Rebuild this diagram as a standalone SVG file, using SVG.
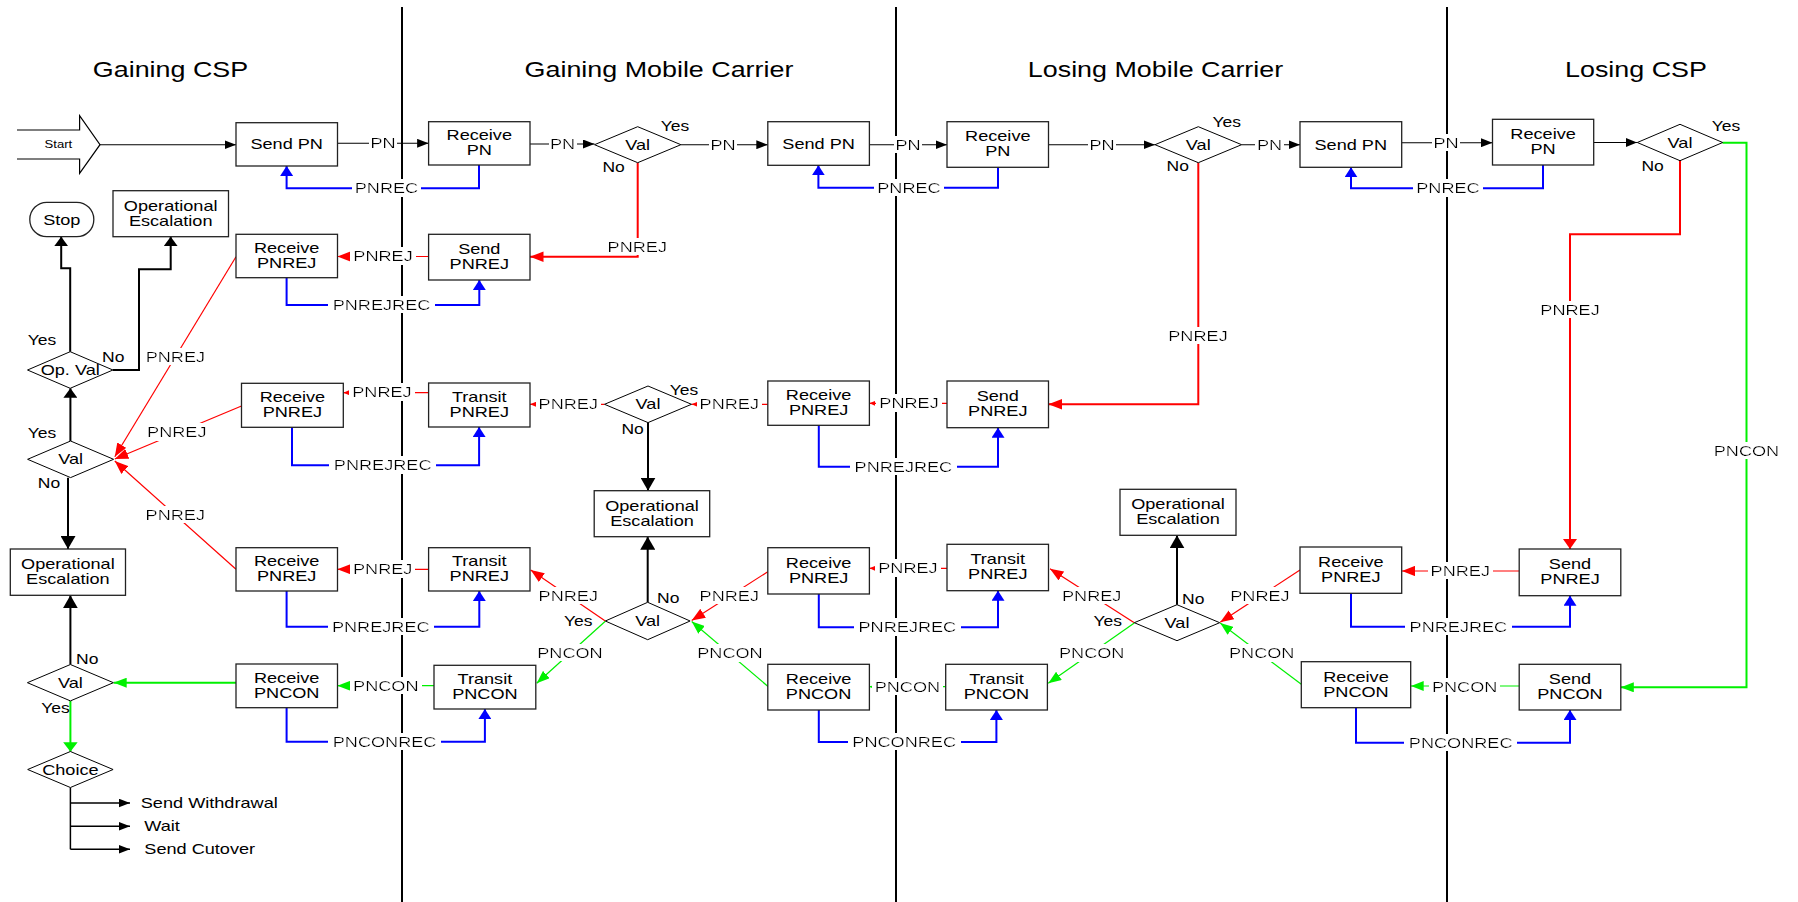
<svg xmlns="http://www.w3.org/2000/svg" width="1798" height="902" viewBox="0 0 1798 902">
<style>
text { font-family: "Liberation Sans", Arial, sans-serif; fill: #000; }
.tx { transform-box: fill-box; transform-origin: 50% 50%; transform: scaleX(1.25); }
.tl { transform-box: fill-box; transform-origin: 0% 50%; transform: scaleX(1.25); }
.c { text-anchor: middle; }
.n { font-size: 14.5px; }
.hd { font-size: 21.5px; }
.yn { font-size: 14px; }
.lb { font-size: 14.5px; filter: url(#bg); }
.box { fill: #fff; stroke: #222; stroke-width: 1.3; }
.dia { fill: #fff; stroke: #000; stroke-width: 1; }
.lane { stroke: #000; stroke-width: 2; }
.ck { fill: none; stroke: #000; stroke-width: 1.1; }
.ckt { fill: none; stroke: #000; stroke-width: 2; }
.cb { fill: none; stroke: #0000ff; stroke-width: 2; }
.cr { fill: none; stroke: #ff0000; stroke-width: 1.2; }
.cr2 { fill: none; stroke: #ff0000; stroke-width: 2; }
.cg { fill: none; stroke: #00f000; stroke-width: 1.2; }
.cg2 { fill: none; stroke: #00f000; stroke-width: 2; }
</style>
<defs>
  <filter id="bg" x="-0.04" y="-0.02" width="1.08" height="1.04">
    <feFlood flood-color="#fff"/>
    <feComposite in="SourceGraphic" operator="over"/>
  </filter>
  <marker id="kh" markerWidth="11.5" markerHeight="9" refX="11.5" refY="4.5" orient="auto" markerUnits="userSpaceOnUse"><path d="M0,0L11.5,4.5L0,9z" fill="#000"/></marker>
  <marker id="kv" markerWidth="9.5" markerHeight="14" refX="9.5" refY="7" orient="auto" markerUnits="userSpaceOnUse"><path d="M0,0L9.5,7L0,14z" fill="#000"/></marker>
  <marker id="kb" markerWidth="13" markerHeight="15" refX="13" refY="7.5" orient="auto" markerUnits="userSpaceOnUse"><path d="M0,0L13,7.5L0,15z" fill="#000"/></marker>
  <marker id="bv" markerWidth="10" markerHeight="13" refX="10" refY="6.5" orient="auto" markerUnits="userSpaceOnUse"><path d="M0,0L10,6.5L0,13z" fill="#0000ff"/></marker>
  <marker id="rh" markerWidth="13.5" markerHeight="10.5" refX="13.5" refY="5.25" orient="auto" markerUnits="userSpaceOnUse"><path d="M0,0L13.5,5.25L0,10.5z" fill="#ff0000"/></marker>
  <marker id="rv" markerWidth="10" markerHeight="14" refX="10" refY="7" orient="auto" markerUnits="userSpaceOnUse"><path d="M0,0L10,7L0,14z" fill="#ff0000"/></marker>
  <marker id="rs" markerWidth="6" markerHeight="5" refX="6" refY="2.5" orient="auto" markerUnits="userSpaceOnUse"><path d="M0,0L6,2.5L0,5z" fill="#ff0000"/></marker>
  <marker id="gh" markerWidth="13" markerHeight="10" refX="13" refY="5" orient="auto" markerUnits="userSpaceOnUse"><path d="M0,0L13,5L0,10z" fill="#00f000"/></marker>
  <marker id="gv" markerWidth="9.5" markerHeight="14.5" refX="9.5" refY="7.25" orient="auto" markerUnits="userSpaceOnUse"><path d="M0,0L9.5,7.25L0,14.5z" fill="#00f000"/></marker>
  <marker id="gs" markerWidth="5" markerHeight="4.5" refX="5" refY="2.25" orient="auto" markerUnits="userSpaceOnUse"><path d="M0,0L5,2.25L0,4.5z" fill="#00f000"/></marker>
</defs>

<rect width="1798" height="902" fill="#fff"/>

<!-- swimlanes -->
<g id="lanes">
  <line class="lane" x1="402" y1="7" x2="402" y2="902"/>
  <line class="lane" x1="896" y1="7" x2="896" y2="902"/>
  <line class="lane" x1="1447" y1="7" x2="1447" y2="902"/>
  <text class="hd c tx" x="170.5" y="77">Gaining CSP</text>
  <text class="hd c tx" x="659" y="77">Gaining Mobile Carrier</text>
  <text class="hd c tx" x="1155.5" y="77">Losing Mobile Carrier</text>
  <text class="hd c tx" x="1636" y="77">Losing CSP</text>
</g>

<!-- message flows -->
<g id="connectors">
  <!-- port request (PN) -->
  <path class="ck" d="M100,144.7H236" marker-end="url(#kh)"/>
  <path class="ck" d="M337.5,143.3H428.6" marker-end="url(#kh)"/>
  <path class="ck" d="M530,144H594.5" marker-end="url(#kh)"/>
  <path class="ck" d="M680.9,144.7H767.8" marker-end="url(#kh)"/>
  <path class="ck" d="M869.4,144.7H947" marker-end="url(#kh)"/>
  <path class="ck" d="M1048.5,144.7H1155" marker-end="url(#kh)"/>
  <path class="ck" d="M1241.6,144.7H1300" marker-end="url(#kh)"/>
  <path class="ck" d="M1401.7,142.7H1492.5" marker-end="url(#kh)"/>
  <path class="ck" d="M1593.7,142.5H1637.3" marker-end="url(#kh)"/>

  <!-- decision outcomes -->
  <path class="ckt" d="M70.2,351.7V268.3H61.2V236.7" marker-end="url(#kv)"/>
  <path class="ckt" d="M112.9,370H139V269.3H170.7V236.7" marker-end="url(#kv)"/>
  <path class="ckt" d="M70.4,441V388.3" marker-end="url(#kv)"/>
  <path class="ckt" d="M68,477.7V549" marker-end="url(#kb)"/>
  <path class="ckt" d="M70.4,664.5V595.3" marker-end="url(#kb)"/>
  <path class="ckt" d="M648,422.6V490.7" marker-end="url(#kb)"/>
  <path class="ckt" d="M647.7,602.3V536.7" marker-end="url(#kb)"/>
  <path class="ckt" d="M1177,604.7V535.3" marker-end="url(#kb)"/>
  <path class="ck" d="M70.4,787.5V849.3" style="stroke-width:1.5"/>
  <path class="ck" d="M70.4,803H130" style="stroke-width:1.5" marker-end="url(#kh)"/>
  <path class="ck" d="M70.4,826.3H130" style="stroke-width:1.5" marker-end="url(#kh)"/>
  <path class="ck" d="M70.4,849.3H130" style="stroke-width:1.5" marker-end="url(#kh)"/>

  <!-- receipts -->
  <path class="cb" d="M479,165V188.3H286.6V166" marker-end="url(#bv)"/>
  <path class="cb" d="M998,167.3V187.7H818.4V165.3" marker-end="url(#bv)"/>
  <path class="cb" d="M1543,165V188.3H1351V167.3" marker-end="url(#bv)"/>
  <path class="cb" d="M286.6,277.7V305H479.3V280" marker-end="url(#bv)"/>
  <path class="cb" d="M292,427.3V465.3H479.1V427" marker-end="url(#bv)"/>
  <path class="cb" d="M818.8,425.3V466.7H998V427.7" marker-end="url(#bv)"/>
  <path class="cb" d="M286.6,591V626.7H479.3V591" marker-end="url(#bv)"/>
  <path class="cb" d="M818.8,594V627.3H998V590.7" marker-end="url(#bv)"/>
  <path class="cb" d="M1351,593.3V626.7H1570V595.7" marker-end="url(#bv)"/>
  <path class="cb" d="M286.6,707.7V741.7H484.9V709" marker-end="url(#bv)"/>
  <path class="cb" d="M818.8,710V742H996.4V710" marker-end="url(#bv)"/>
  <path class="cb" d="M1356,707.7V742.7H1570V710" marker-end="url(#bv)"/>

  <!-- rejections (PNREJ) -->
  <path class="cr2" d="M637.7,162.7V256.7H530" marker-end="url(#rh)"/>
  <path class="cr2" d="M1198.3,162.7V404.3H1048.5" marker-end="url(#rh)"/>
  <path class="cr2" d="M1680,160.7V234.3H1570V549" marker-end="url(#rv)"/>
  <path class="cr" d="M428.6,256.5H337.5" marker-end="url(#rh)"/>
  <path class="cr" d="M236,256.7L114.8,456.7" marker-end="url(#rh)"/>
  <path class="cr" d="M241.5,406L114.8,459" marker-end="url(#rh)"/>
  <path class="cr" d="M236,569.3L114.8,461" marker-end="url(#rh)"/>
  <path class="cr" d="M428.6,392.7H343.3" marker-end="url(#rs)"/>
  <path class="cr" d="M604.5,404.3H530" marker-end="url(#rs)"/>
  <path class="cr" d="M767.8,404.3H691.5" marker-end="url(#rs)"/>
  <path class="cr" d="M947,403.3H869.4" marker-end="url(#rs)"/>
  <path class="cr" d="M428.6,569.3H337.5" marker-end="url(#rh)"/>
  <path class="cr" d="M605.3,621L530.7,570" marker-end="url(#rh)"/>
  <path class="cr" d="M767.8,571.7L691.7,620.5" marker-end="url(#rh)"/>
  <path class="cr" d="M947,568.3H869.4" marker-end="url(#rs)"/>
  <path class="cr" d="M1134.3,622.7L1050,568.7" marker-end="url(#rh)"/>
  <path class="cr" d="M1300,570L1220.2,622.2" marker-end="url(#rh)"/>
  <path class="cr" d="M1519.2,571H1401.7" marker-end="url(#rh)"/>

  <!-- confirmations (PNCON) -->
  <path class="cg2" d="M1722.5,142.7H1746.5V687.3H1620.8" marker-end="url(#gh)"/>
  <path class="cg2" d="M236,682.7H113.7" marker-end="url(#gh)"/>
  <path class="cg2" d="M70.4,700.9V751.7" marker-end="url(#gv)"/>
  <path class="cg" d="M434,685.7H337.5" marker-end="url(#gh)"/>
  <path class="cg" d="M605.3,621.3L536.7,683.3" marker-end="url(#gh)"/>
  <path class="cg" d="M768.3,686.7L691.7,621.5" marker-end="url(#gh)"/>
  <path class="cg" d="M945.7,686.7H869.4" marker-end="url(#gs)"/>
  <path class="cg" d="M1134.3,623L1048.3,683.3" marker-end="url(#gh)"/>
  <path class="cg" d="M1301.3,684.3L1220.2,623" marker-end="url(#gh)"/>
  <path class="cg" d="M1519.2,686H1410.7" marker-end="url(#gh)"/>

  <!-- message labels -->
  <text class="lb c tx" x="383" y="148.3">PN</text>
  <text class="lb c tx" x="562.6" y="149">PN</text>
  <text class="lb c tx" x="723" y="149.7">PN</text>
  <text class="lb c tx" x="908" y="149.7">PN</text>
  <text class="lb c tx" x="1102" y="149.7">PN</text>
  <text class="lb c tx" x="1269.5" y="149.7">PN</text>
  <text class="lb c tx" x="1446" y="147.7">PN</text>
  <text class="lb c tx" x="386.5" y="193.3">PNREC</text>
  <text class="lb c tx" x="909" y="192.7">PNREC</text>
  <text class="lb c tx" x="1448" y="193.3">PNREC</text>
  <text class="lb c tx" x="637.3" y="251.7">PNREJ</text>
  <text class="lb c tx" x="1198" y="341">PNREJ</text>
  <text class="lb c tx" x="1570" y="314.6">PNREJ</text>
  <text class="lb c tx" x="1746.5" y="455.7">PNCON</text>
  <text class="lb c tx" x="383" y="261.5">PNREJ</text>
  <text class="lb c tx" x="381.5" y="310">PNREJREC</text>
  <text class="lb c tx" x="175.4" y="362">PNREJ</text>
  <text class="lb c tx" x="176.8" y="437.3">PNREJ</text>
  <text class="lb c tx" x="175.3" y="520">PNREJ</text>
  <text class="lb c tx" x="382" y="397.5">PNREJ</text>
  <text class="lb c tx" x="568.3" y="409.3">PNREJ</text>
  <text class="lb c tx" x="729.3" y="409.3">PNREJ</text>
  <text class="lb c tx" x="909" y="408.3">PNREJ</text>
  <text class="lb c tx" x="382.7" y="470.3">PNREJREC</text>
  <text class="lb c tx" x="903.4" y="471.7">PNREJREC</text>
  <text class="lb c tx" x="382.7" y="574.3">PNREJ</text>
  <text class="lb c tx" x="380.8" y="631.7">PNREJREC</text>
  <text class="lb c tx" x="568.3" y="600.7">PNREJ</text>
  <text class="lb c tx" x="570" y="657.7">PNCON</text>
  <text class="lb c tx" x="729.3" y="600.7">PNREJ</text>
  <text class="lb c tx" x="730" y="658.3">PNCON</text>
  <text class="lb c tx" x="908" y="573.3">PNREJ</text>
  <text class="lb c tx" x="907.4" y="632.3">PNREJREC</text>
  <text class="lb c tx" x="1091.7" y="600.7">PNREJ</text>
  <text class="lb c tx" x="1091.7" y="658.3">PNCON</text>
  <text class="lb c tx" x="1260" y="600.7">PNREJ</text>
  <text class="lb c tx" x="1261.7" y="658.3">PNCON</text>
  <text class="lb c tx" x="1460.3" y="576">PNREJ</text>
  <text class="lb c tx" x="1458.4" y="631.7">PNREJREC</text>
  <text class="lb c tx" x="385.8" y="690.7">PNCON</text>
  <text class="lb c tx" x="384.6" y="746.7">PNCONREC</text>
  <text class="lb c tx" x="907.4" y="691.7">PNCON</text>
  <text class="lb c tx" x="904.2" y="747">PNCONREC</text>
  <text class="lb c tx" x="1464.6" y="691.7">PNCON</text>
  <text class="lb c tx" x="1460.7" y="747.7">PNCONREC</text>
</g>

<!-- Gaining CSP -->
<g id="start">
  <path d="M17,130H79.6V115.7L100,144.7L79.6,173.3V159H17" fill="#fff" stroke="#000" stroke-width="1.2"/>
  <text class="c tx" x="58.5" y="148.5" font-size="10.5">Start</text>
</g>
<g id="gcsp-send-pn">
  <rect class="box" x="236" y="122.7" width="101.5" height="43.3"/>
  <text class="n c tx" x="286.7" y="149.5">Send PN</text>
</g>
<g id="gcsp-stop">
  <rect class="box" x="29.8" y="202.3" width="64" height="34.4" rx="17"/>
  <text class="n c tx" x="61.8" y="224.7">Stop</text>
</g>
<g id="gcsp-escalation-1">
  <rect class="box" x="113" y="190.7" width="115.5" height="46"/>
  <text class="n c tx" x="170.7" y="210.7">Operational<tspan x="170.7" y="225.7">Escalation</tspan></text>
</g>
<g id="gcsp-receive-pnrej-1">
  <rect class="box" x="236" y="234.3" width="101.5" height="43.4"/>
  <text class="n c tx" x="286.7" y="253">Receive<tspan x="286.7" y="268">PNREJ</tspan></text>
</g>
<g id="gcsp-op-val">
  <polygon class="dia" points="27.5,370 70.2,351.7 112.9,370 70.2,388.3"/>
  <text class="n c tx" x="70.2" y="375.2">Op. Val</text>
  <text class="yn c tx" x="42" y="345">Yes</text>
  <text class="yn c tx" x="113.3" y="361.7">No</text>
</g>
<g id="gcsp-val-rej">
  <polygon class="dia" points="27.6,459.3 70.6,441 113.6,459.3 70.6,477.6"/>
  <text class="n c tx" x="70.6" y="464.5">Val</text>
  <text class="yn c tx" x="42" y="438.3">Yes</text>
  <text class="yn c tx" x="49" y="488.3">No</text>
</g>
<g id="gcsp-receive-pnrej-2">
  <rect class="box" x="241.5" y="383.3" width="101.8" height="44"/>
  <text class="n c tx" x="292.4" y="402.3">Receive<tspan x="292.4" y="417.3">PNREJ</tspan></text>
</g>
<g id="gcsp-escalation-2">
  <rect class="box" x="10.3" y="549" width="115.2" height="46.3"/>
  <text class="n c tx" x="67.9" y="569.2">Operational<tspan x="67.9" y="584.2">Escalation</tspan></text>
</g>
<g id="gcsp-receive-pnrej-3">
  <rect class="box" x="236" y="547.7" width="101.5" height="43.3"/>
  <text class="n c tx" x="286.7" y="566.3">Receive<tspan x="286.7" y="581.3">PNREJ</tspan></text>
</g>
<g id="gcsp-val-con">
  <polygon class="dia" points="27.4,682.7 70.4,664.5 113.4,682.7 70.4,700.9"/>
  <text class="n c tx" x="70.4" y="687.9">Val</text>
  <text class="yn c tx" x="87.3" y="664.3">No</text>
  <text class="yn c tx" x="55.5" y="713.3">Yes</text>
</g>
<g id="gcsp-receive-pncon">
  <rect class="box" x="236" y="664" width="101.5" height="43.7"/>
  <text class="n c tx" x="286.7" y="682.8">Receive<tspan x="286.7" y="697.8">PNCON</tspan></text>
</g>
<g id="gcsp-choice">
  <polygon class="dia" points="27.7,769.5 70.4,751.5 113.1,769.5 70.4,787.5"/>
  <text class="n c tx" x="70.4" y="774.7">Choice</text>
  <text class="n tl" x="140.8" y="808">Send Withdrawal</text>
  <text class="n tl" x="144.3" y="831.3">Wait</text>
  <text class="n tl" x="144.3" y="854.3">Send Cutover</text>
</g>

<!-- Gaining Mobile Carrier -->
<g id="gmc-receive-pn">
  <rect class="box" x="428.6" y="121.7" width="101.4" height="43.3"/>
  <text class="n c tx" x="479.3" y="140.3">Receive<tspan x="479.3" y="155.3">PN</tspan></text>
</g>
<g id="gmc-val-pn">
  <polygon class="dia" points="594.5,144.7 637.7,126.7 680.9,144.7 637.7,162.7"/>
  <text class="n c tx" x="637.7" y="149.9">Val</text>
  <text class="yn c tx" x="675" y="131">Yes</text>
  <text class="yn c tx" x="613.6" y="172.5">No</text>
</g>
<g id="gmc-send-pn">
  <rect class="box" x="767.8" y="121.7" width="101.6" height="43.6"/>
  <text class="n c tx" x="818.6" y="148.7">Send PN</text>
</g>
<g id="gmc-send-pnrej">
  <rect class="box" x="428.6" y="234.3" width="101.4" height="45.7"/>
  <text class="n c tx" x="479.3" y="254.2">Send<tspan x="479.3" y="269.2">PNREJ</tspan></text>
</g>
<g id="gmc-transit-pnrej-1">
  <rect class="box" x="428.6" y="383" width="101.4" height="44"/>
  <text class="n c tx" x="479.3" y="402">Transit<tspan x="479.3" y="417">PNREJ</tspan></text>
</g>
<g id="gmc-val-rej">
  <polygon class="dia" points="604.5,404.3 648,386 691.5,404.3 648,422.6"/>
  <text class="n c tx" x="648" y="409.5">Val</text>
  <text class="yn c tx" x="684" y="395">Yes</text>
  <text class="yn c tx" x="632.6" y="434.3">No</text>
</g>
<g id="gmc-receive-pnrej-1">
  <rect class="box" x="767.8" y="381" width="101.6" height="44.3"/>
  <text class="n c tx" x="818.6" y="400.2">Receive<tspan x="818.6" y="415.2">PNREJ</tspan></text>
</g>
<g id="gmc-escalation">
  <rect class="box" x="594.2" y="490.7" width="115.5" height="46"/>
  <text class="n c tx" x="652" y="510.7">Operational<tspan x="652" y="525.7">Escalation</tspan></text>
</g>
<g id="gmc-transit-pnrej-2">
  <rect class="box" x="428.6" y="547.7" width="101.4" height="43.3"/>
  <text class="n c tx" x="479.3" y="566.3">Transit<tspan x="479.3" y="581.3">PNREJ</tspan></text>
</g>
<g id="gmc-val-transit">
  <polygon class="dia" points="605.3,621 647.7,602.3 690.1,621 647.7,639.7"/>
  <text class="n c tx" x="647.7" y="626.2">Val</text>
  <text class="yn c tx" x="578.3" y="626">Yes</text>
  <text class="yn c tx" x="668.3" y="602.7">No</text>
</g>
<g id="gmc-receive-pnrej-2">
  <rect class="box" x="767.8" y="547.7" width="101.6" height="46.3"/>
  <text class="n c tx" x="818.6" y="567.8">Receive<tspan x="818.6" y="582.8">PNREJ</tspan></text>
</g>
<g id="gmc-transit-pncon">
  <rect class="box" x="434" y="665.3" width="101.8" height="43.7"/>
  <text class="n c tx" x="484.9" y="684.2">Transit<tspan x="484.9" y="699.2">PNCON</tspan></text>
</g>
<g id="gmc-receive-pncon">
  <rect class="box" x="767.8" y="664.3" width="101.6" height="45.7"/>
  <text class="n c tx" x="818.6" y="684.2">Receive<tspan x="818.6" y="699.2">PNCON</tspan></text>
</g>

<!-- Losing Mobile Carrier -->
<g id="lmc-receive-pn">
  <rect class="box" x="947" y="121.7" width="101.5" height="45.6"/>
  <text class="n c tx" x="997.8" y="141.5">Receive<tspan x="997.8" y="156.5">PN</tspan></text>
</g>
<g id="lmc-val-pn">
  <polygon class="dia" points="1155,144.7 1198.3,126.7 1241.6,144.7 1198.3,162.7"/>
  <text class="n c tx" x="1198.3" y="149.9">Val</text>
  <text class="yn c tx" x="1226.8" y="127.3">Yes</text>
  <text class="yn c tx" x="1177.8" y="170.7">No</text>
</g>
<g id="lmc-send-pn">
  <rect class="box" x="1300" y="121.7" width="101.7" height="45.6"/>
  <text class="n c tx" x="1350.8" y="149.7">Send PN</text>
</g>
<g id="lmc-send-pnrej">
  <rect class="box" x="947" y="381" width="101.5" height="46.7"/>
  <text class="n c tx" x="997.8" y="401.3">Send<tspan x="997.8" y="416.3">PNREJ</tspan></text>
</g>
<g id="lmc-escalation">
  <rect class="box" x="1120" y="489.3" width="116" height="46"/>
  <text class="n c tx" x="1178" y="509.3">Operational<tspan x="1178" y="524.3">Escalation</tspan></text>
</g>
<g id="lmc-transit-pnrej">
  <rect class="box" x="947" y="544.3" width="101.5" height="46.4"/>
  <text class="n c tx" x="997.8" y="564.5">Transit<tspan x="997.8" y="579.5">PNREJ</tspan></text>
</g>
<g id="lmc-val-transit">
  <polygon class="dia" points="1134.3,622.7 1177,604.7 1219.7,622.7 1177,640.7"/>
  <text class="n c tx" x="1177" y="627.9">Val</text>
  <text class="yn c tx" x="1107.7" y="626">Yes</text>
  <text class="yn c tx" x="1193.3" y="603.7">No</text>
</g>
<g id="lmc-receive-pnrej">
  <rect class="box" x="1300" y="547" width="101.7" height="46.3"/>
  <text class="n c tx" x="1350.8" y="567.2">Receive<tspan x="1350.8" y="582.2">PNREJ</tspan></text>
</g>
<g id="lmc-transit-pncon">
  <rect class="box" x="945.7" y="664.3" width="101.7" height="45.7"/>
  <text class="n c tx" x="996.5" y="684.2">Transit<tspan x="996.5" y="699.2">PNCON</tspan></text>
</g>
<g id="lmc-receive-pncon">
  <rect class="box" x="1301.3" y="661.7" width="109.4" height="46"/>
  <text class="n c tx" x="1356" y="681.7">Receive<tspan x="1356" y="696.7">PNCON</tspan></text>
</g>

<!-- Losing CSP -->
<g id="lcsp-receive-pn">
  <rect class="box" x="1492.5" y="119.3" width="101.2" height="45.7"/>
  <text class="n c tx" x="1543.1" y="139.2">Receive<tspan x="1543.1" y="154.2">PN</tspan></text>
</g>
<g id="lcsp-val">
  <polygon class="dia" points="1637.3,142.5 1680,124.3 1722.7,142.5 1680,160.7"/>
  <text class="n c tx" x="1680" y="147.7">Val</text>
  <text class="yn c tx" x="1726" y="131">Yes</text>
  <text class="yn c tx" x="1652.6" y="170.7">No</text>
</g>
<g id="lcsp-send-pnrej">
  <rect class="box" x="1519.2" y="549" width="101.6" height="46.7"/>
  <text class="n c tx" x="1570" y="569.3">Send<tspan x="1570" y="584.3">PNREJ</tspan></text>
</g>
<g id="lcsp-send-pncon">
  <rect class="box" x="1519.2" y="664.3" width="101.6" height="45.7"/>
  <text class="n c tx" x="1570" y="684.2">Send<tspan x="1570" y="699.2">PNCON</tspan></text>
</g>
</svg>
